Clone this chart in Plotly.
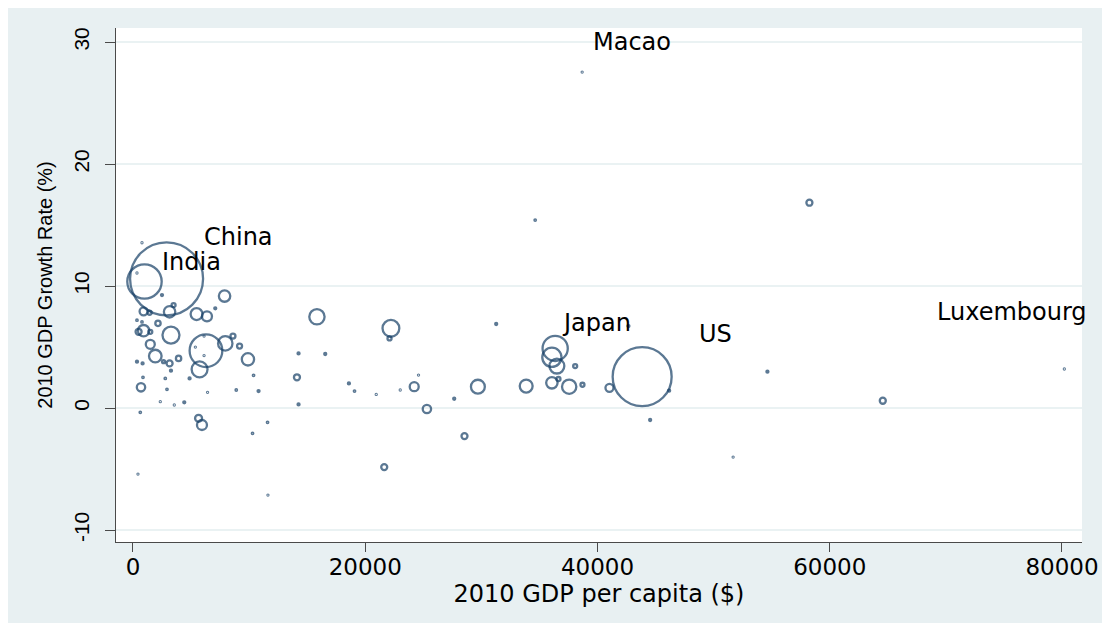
import plotly.graph_objects as go

# ---- data ----
gdp_pc = [2893, 990, 43846, 36356, 36072, 36502, 6285, 3271, 15841, 22211,
          22091, 31277, 42666, 38078, 24217, 29701, 33859, 36072, 36640, 37561,
          38706, 41031, 46170, 27661, 25310, 44534, 28547, 21635, 24587, 18595,
          19078, 23012, 20946, 58249, 54633, 64568, 80201, 38680, 34634, 51680,
          14257, 16555, 14119, 14257, 10813, 8893, 10382, 10296, 11588, 11622,
          430, 5648, 5940, 689, 2927, 6422, 4416, 2350, 3556, 628,
          5734, 9900, 7946, 8609, 9177, 3271, 4873, 2781, 861, 1920,
          3151, 3926, 2634, 1489, 913, 482, 1489, 2152, 913, 1429,
          3151, 3495, 5475, 6371, 7085, 7886, 2497, 775, 344, 344,
          775, 344, 827, 6120, 5370, 6120]
growth = [10.59, 10.37, 2.57, 4.89, 4.16, 3.44, 4.70, 5.98, 7.48, 6.53,
          5.71, 6.89, 6.72, 3.44, 1.75, 1.75, 1.80, 2.07, 2.38, 1.75,
          1.91, 1.66, 1.42, 0.76, -0.08, -0.98, -2.30, -4.84, 2.70, 2.02,
          1.39, 1.48, 1.12, 16.83, 2.98, 0.60, 3.20, 27.54, 15.41, -4.02,
          4.48, 4.43, 2.52, 0.30, 1.39, 1.48, 2.68, -2.07, -1.17, -7.13,
          -5.41, -0.84, -1.39, 1.70, 1.53, 1.29, 0.47, 0.52, 0.25, -0.35,
          3.17, 3.99, 5.30, 5.90, 5.08, 3.06, 2.43, 2.43, 2.52, 4.26,
          3.66, 4.07, 3.80, 5.22, 6.34, 6.25, 6.25, 6.94, 7.93, 7.81,
          7.89, 8.44, 7.70, 7.52, 8.17, 9.18, 9.26, 13.55, 11.07, 7.20,
          7.06, 3.80, 3.66, 5.90, 5.00, 4.30]
weight = [100, 22.2, 65.3, 11.92, 6.92, 4.17, 20.07, 5.42, 4.39, 5.30,
          0.30, 0.075, 0.075, 0.30, 1.52, 3.63, 3.12, 2.44, 0.30, 3.84,
          0.30, 1.20, 0.075, 0.075, 1.32, 0.075, 0.68, 0.68, 0.019, 0.075,
          0.042, 0.019, 0.019, 0.68, 0.075, 0.68, 0.019, 0.019, 0.042, 0.019,
          0.075, 0.075, 0.68, 0.075, 0.075, 0.042, 0.042, 0.042, 0.042, 0.005,
          0.005, 0.92, 1.88, 1.32, 0.042, 0.019, 0.075, 0.019, 0.019, 0.042,
          4.74, 2.84, 3.89, 0.47, 0.47, 0.075, 0.075, 0.042, 0.042, 2.98,
          0.68, 0.53, 0.169, 1.52, 2.44, 0.68, 0.30, 0.53, 1.20, 0.30,
          2.44, 0.30, 2.66, 1.88, 0.075, 2.44, 0.075, 0.019, 0.019, 0.042,
          0.042, 0.075, 0.075, 0.019, 0.019, 0.019]

label_text = ["Macao", "China", "India", "Japan", "US", "Luxembourg"]
label_x = [42984, 9108, 5019, 39945, 50129, 75723]
label_y = [30.0, 14.02, 11.97, 6.94, 6.07, 7.89]

x_ticks = [0, 20000, 40000, 60000, 80000]
y_ticks = [-10, 0, 10, 20, 30]

NAVY = "#163f66"
BG = "#e8f0f2"
max_w = max(weight)
max_d = 73

fig = go.Figure()
fig.add_trace(go.Scatter(
    x=gdp_pc, y=growth, mode="markers",
    marker=dict(size=weight, sizemode="area", sizeref=2 * max_w / max_d ** 2,
                sizemin=0.5, color="rgba(0,0,0,0)",
                line=dict(color=NAVY, width=2.3)),
    hoverinfo="skip", showlegend=False))

for t, lx, ly in zip(label_text, label_x, label_y):
    fig.add_annotation(x=lx, y=ly, text=t, showarrow=False,
                       font=dict(family="DejaVu Sans", size=24, color="black"),
                       xanchor="center", yanchor="middle")

fig.update_layout(
    width=1102, height=615,
    margin=dict(l=108, r=28, t=20, b=81),
    paper_bgcolor=BG, plot_bgcolor="white",
    font=dict(family="DejaVu Sans", color="black"),
    xaxis=dict(range=[-1463, 81723], tickvals=x_ticks, ticktext=[str(v) for v in x_ticks],
               showgrid=False, zeroline=False, showline=True, linecolor="#4a4a4a",
               linewidth=1.3, ticks="outside", ticklen=9, tickwidth=1.3,
               tickcolor="#4a4a4a", ticklabelstandoff=-5,
               tickfont=dict(family="DejaVu Sans", size=23, color="black"),
               title=dict(text="2010 GDP per capita ($)", standoff=0,
                          font=dict(family="DejaVu Sans", size=24, color="black"))),
    yaxis=dict(range=[-10.98, 31.15], tickvals=y_ticks, ticktext=[str(v) for v in y_ticks],
               showgrid=True, gridcolor="#eaf2f3", gridwidth=2, zeroline=False,
               showline=True, linecolor="#4a4a4a", linewidth=1.3,
               ticks="outside", ticklen=10, tickwidth=1.3, tickcolor="#4a4a4a",
               tickangle=-90, ticklabelstandoff=7,
               tickfont=dict(family="Liberation Sans", size=21, color="black"),
               title=dict(text="2010 GDP Growth Rate (%)", standoff=12,
                          font=dict(family="Liberation Sans", size=20, color="black"))),
)

fig.write_html("out.html")
